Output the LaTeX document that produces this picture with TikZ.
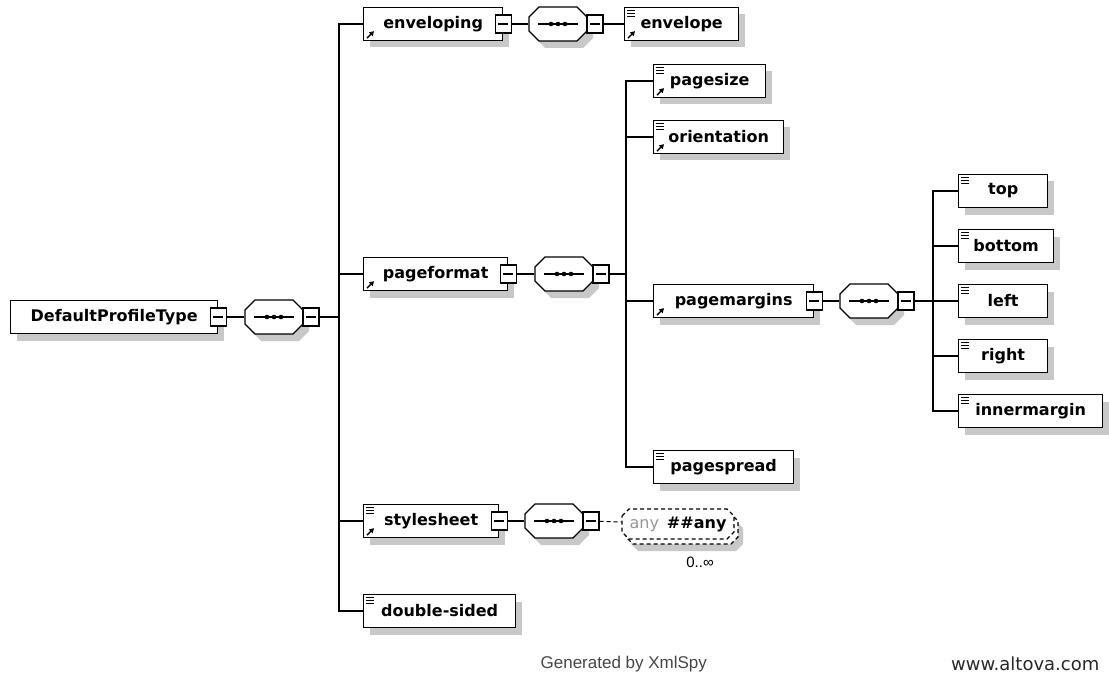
\documentclass[tikz,border=0pt]{standalone}
\usepackage{fontspec}
\setmainfont{DejaVu Sans}
\newfontfamily\footfont{Liberation Sans}
\newfontfamily\webfont{DejaVu Sans}
\usetikzlibrary{arrows.meta,shadows}

\definecolor{shadowgrey}{RGB}{200,200,200}
\definecolor{footgrey}{RGB}{70,70,70}
\definecolor{webgrey}{RGB}{40,40,40}
\definecolor{anygrey}{RGB}{150,150,150}

% sequence compositor: name, left x, centre y
\newcommand\seqsym[3]{%
  \node[seqhook] (#1) at ({#2+29},{#3}) {};
  \begin{scope}[shift={(6,7)}]
    \fill[shadowgrey] ({#2},{#3-7}) -- ({#2+10},{#3-17}) -- ({#2+48},{#3-17}) -- ({#2+58},{#3-7})
      -- ({#2+58},{#3+7}) -- ({#2+48},{#3+17}) -- ({#2+10},{#3+17}) -- ({#2},{#3+7}) -- cycle;
  \end{scope}
  \filldraw[fill=white] ({#2},{#3-7}) -- ({#2+10},{#3-17}) -- ({#2+48},{#3-17}) -- ({#2+58},{#3-7})
      -- ({#2+58},{#3+7}) -- ({#2+48},{#3+17}) -- ({#2+10},{#3+17}) -- ({#2},{#3+7}) -- cycle;
  \draw ({#2+9},{#3}) -- ({#2+49},{#3});
  \foreach \d in {-7,0,7} \fill ({#2+29+\d},{#3}) circle (2.3);
  \node[minus] (#1-m) at ({#2+66},{#3}) {};
}
% simple-content mark (three bars) at the top left corner
\newcommand\iconlines[1]{%
  \foreach \k in {3.5,6.5,9.5} \draw[line width=1bp] ([shift={(3,\k)}]#1.north west) -- ++(8,0);}
% reference mark (small arrow) at the bottom left corner
\newcommand\iconref[1]{%
  \draw[line width=1.3bp,-{Triangle[length=4.5bp,width=5bp]}] ([shift={(4,-3)}]#1.south west) -- ++(7,-7);}

\begin{document}
\begin{tikzpicture}[x=1bp,y=-1bp,line width=1.3bp,
  every node/.style={font=\fontsize{16bp}{19bp}\selectfont\bfseries},
  elem/.style={draw, fill=white, minimum height=33bp, inner sep=0pt, anchor=west,
    drop shadow={shadow xshift=6bp, shadow yshift=-7bp, fill=shadowgrey, opacity=1}},
  minus/.style={draw, fill=white, line width=1.1bp, minimum width=16bp, minimum height=18bp, inner sep=0pt,
    path picture={\draw[line width=1.1bp] ([xshift=3bp]path picture bounding box.west)
      -- ([xshift=-3bp]path picture bounding box.east);}},
  seqhook/.style={minimum width=58bp, minimum height=34bp, inner sep=0pt},
  foot/.style={font=\footfont\fontsize{17bp}{20bp}\selectfont, text=footgrey, inner sep=0pt},
  web/.style={font=\webfont\fontsize{18bp}{21bp}\selectfont, text=webgrey, inner sep=0pt},
  mult/.style={font=\footfont\fontsize{15bp}{18bp}\selectfont, inner sep=0pt},
  wild/.style={dashed, dash pattern=on 4bp off 3bp, line width=1.1bp}]

\useasboundingbox (0,0) rectangle (1109,686);

% root type and its sequence
\node[elem, minimum width=207bp] (root) at (10,317) {DefaultProfileType};
\node[minus] (root-m) at (root.east) {};
\seqsym{s0}{245}{317}
\coordinate (bus0) at (339,317);

% first level
\node[elem, minimum width=139bp] (enveloping) at (363,24) {enveloping};
\node[minus] (enveloping-m) at (enveloping.east) {};
\iconref{enveloping}
\seqsym{s1}{529}{24}
\node[elem, minimum width=114bp] (envelope) at (624,24) {envelope};
\iconlines{envelope}\iconref{envelope}

\node[elem, minimum width=144bp] (pageformat) at (363,274) {pageformat};
\node[minus] (pageformat-m) at (pageformat.east) {};
\iconref{pageformat}
\seqsym{s2}{535}{274}
\coordinate (bus2) at (626,274);

\node[elem, minimum width=135bp] (stylesheet) at (363,521) {stylesheet};
\node[minus] (stylesheet-m) at (stylesheet.east) {};
\iconlines{stylesheet}\iconref{stylesheet}
\seqsym{s4}{525}{521}

\node[elem, minimum width=152bp] (doublesided) at (363,611) {double-sided};
\iconlines{doublesided}

% second level
\node[elem, minimum width=112bp] (pagesize) at (653,81) {pagesize};
\iconlines{pagesize}\iconref{pagesize}
\node[elem, minimum width=130bp] (orientation) at (653,137) {orientation};
\iconlines{orientation}\iconref{orientation}
\node[elem, minimum width=160bp] (pagemargins) at (653,301) {pagemargins};
\node[minus] (pagemargins-m) at (pagemargins.east) {};
\iconref{pagemargins}
\seqsym{s3}{840}{301}
\coordinate (bus3) at (933,301);
\node[elem, minimum width=140bp] (pagespread) at (653,467) {pagespread};
\iconlines{pagespread}

% third level
\node[elem, minimum width=89bp] (top) at (958,191) {top};
\node[elem, minimum width=95bp] (bottom) at (958,246) {bottom};
\node[elem, minimum width=89bp] (left) at (958,301) {left};
\node[elem, minimum width=89bp] (right) at (958,356) {right};
\node[elem, minimum width=144bp] (innermargin) at (958,411) {innermargin};
\foreach \n in {top,bottom,left,right,innermargin} {\iconlines{\n}}

% wildcard with two stacked dashed outlines
\begin{scope}[shift={(9,12)}]
  \fill[shadowgrey] (622,516) -- (629,509) -- (727,509) -- (734,516) -- (734,532) -- (727,539) -- (629,539) -- (622,532) -- cycle;
\end{scope}
\begin{scope}[shift={(4,5)}]
  \filldraw[wild, fill=white] (622,516) -- (629,509) -- (727,509) -- (734,516) -- (734,532) -- (727,539) -- (629,539) -- (622,532) -- cycle;
\end{scope}
\filldraw[wild, fill=white] (622,516) -- (629,509) -- (727,509) -- (734,516) -- (734,532) -- (727,539) -- (629,539) -- (622,532) -- cycle;
\node[minimum width=112bp, minimum height=30bp, inner sep=0pt] (any) at (678,524)
  {\textcolor{anygrey}{\mdseries any}\hspace{8bp}\#\#any};
\node[mult] (anymult) at (700,562) {0..∞};

% connectors
\draw (root-m) -- (s0);
\draw (s0-m) -- (bus0);
\foreach \c in {enveloping,pageformat,stylesheet,doublesided} \draw (bus0) |- (\c.west);
\draw (enveloping-m) -- (s1);
\draw (s1-m) -- (envelope);
\draw (pageformat-m) -- (s2);
\draw (s2-m) -- (bus2);
\foreach \c in {pagesize,orientation,pagemargins,pagespread} \draw (bus2) |- (\c.west);
\draw (pagemargins-m) -- (s3);
\draw (s3-m) -- (bus3);
\foreach \c in {top,bottom,left,right,innermargin} \draw (bus3) |- (\c.west);
\draw (stylesheet-m) -- (s4);
\draw[wild] (s4-m) -- (any);

% footer
\node[foot, anchor=west] (gen) at (540,664) {Generated by XmlSpy};
\node[web, anchor=east] (web) at (1100,664) {www.altova.com};
\end{tikzpicture}
\end{document}
